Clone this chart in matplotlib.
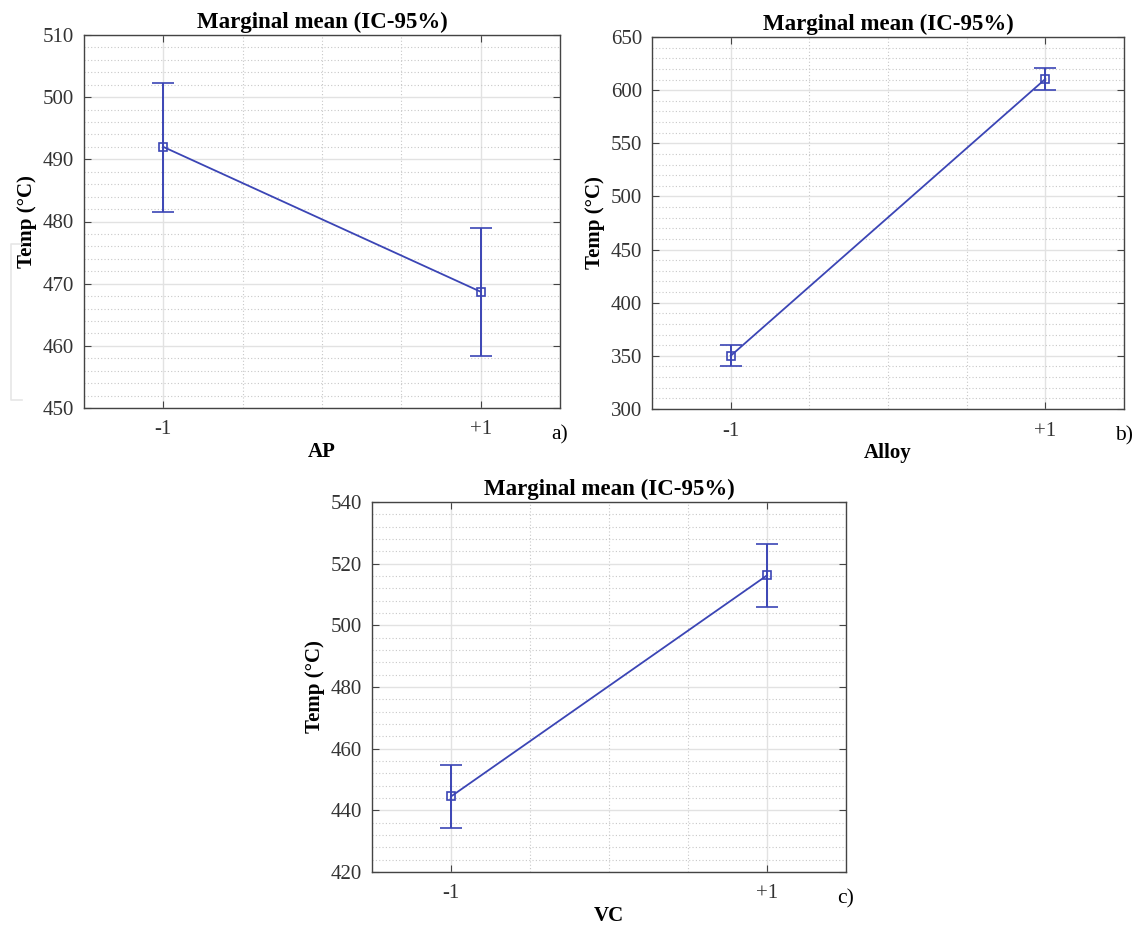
import numpy as np
import matplotlib
matplotlib.use("Agg")
import matplotlib.pyplot as plt
from matplotlib.ticker import MultipleLocator
from matplotlib.lines import Line2D

plt.rcParams['font.family'] = ['Liberation Serif', 'DejaVu Serif']

# data
levels = ['-1', '+1']
x_pos = [-1, 1]

ap_mean = [492.0, 468.7]
ap_low = [481.6, 458.4]
ap_high = [502.2, 479.0]

alloy_mean = [350.0, 610.5]
alloy_low = [340.0, 600.0]
alloy_high = [360.0, 620.5]

vc_mean = [444.5, 516.2]
vc_low = [434.3, 505.9]
vc_high = [454.8, 526.5]

blue = '#3b45b5'

W, H = 1135, 926
fig = plt.figure(figsize=(W / 100, H / 100), dpi=100)


def make_ax(left, right, top, bottom):
    return fig.add_axes([left / W, 1 - bottom / H, (right - left) / W, (bottom - top) / H])


def panel(ax, mean, low, high, ylim, major, minor, xlabel, tag):
    mean = np.array(mean)
    yerr = [mean - np.array(low), np.array(high) - mean]
    ax.errorbar(x_pos, mean, yerr=yerr, color=blue, lw=1.3, elinewidth=1.4,
                capsize=8, capthick=1.4, marker='s', ms=6, mfc='none',
                mec=blue, mew=1.2, zorder=3)
    ax.set_xlim(-1.5, 1.5)
    ax.set_ylim(*ylim)
    ax.set_xticks(x_pos)
    ax.set_xticklabels(levels)
    ax.xaxis.set_minor_locator(MultipleLocator(0.5))
    ax.yaxis.set_major_locator(MultipleLocator(major))
    ax.yaxis.set_minor_locator(MultipleLocator(minor))
    ax.grid(which='major', color='#e2e2e2', lw=1.0, ls='-')
    ax.grid(which='minor', color='#c8c8c8', lw=0.8, ls=(0, (1, 2)))
    ax.set_axisbelow(True)
    ax.tick_params(which='major', direction='in', length=5, right=True, top=True,
                   labelsize=15, color='#444444', labelcolor='#333333')
    ax.tick_params(axis='x', pad=9)
    ax.tick_params(axis='y', pad=7)
    ax.tick_params(which='minor', length=0)
    for s in ax.spines.values():
        s.set_color('#444444')
        s.set_linewidth(1.0)
    ax.set_title('Marginal mean (IC-95%)', fontsize=16.5, fontweight='bold', pad=5)
    ax.set_ylabel('Temp (°C)', fontsize=15, fontweight='bold', labelpad=4)
    ax.set_xlabel(xlabel, fontsize=15, fontweight='bold', labelpad=2)
    ax.text(1.0, -0.072, tag, transform=ax.transAxes, fontsize=15.5, ha='center', va='center')


ax1 = make_ax(84, 560, 35, 408)
panel(ax1, ap_mean, ap_low, ap_high, (450, 510), 10, 2, 'AP', 'a)')

ax2 = make_ax(652, 1124, 37, 409)
panel(ax2, alloy_mean, alloy_low, alloy_high, (300, 650), 50, 10, 'Alloy', 'b)')

ax3 = make_ax(372, 846, 502, 872)
panel(ax3, vc_mean, vc_low, vc_high, (420, 540), 20, 4, 'VC', 'c)')

# faint bracket artifact at left of panel a
bx = [22 / W, 11 / W, 11 / W, 22 / W]
by = [1 - 244 / H, 1 - 244 / H, 1 - 400 / H, 1 - 400 / H]
fig.add_artist(Line2D(bx, by, color='#e6e6e6', lw=1.2))

fig.savefig('out.png', dpi=100, facecolor='white')
